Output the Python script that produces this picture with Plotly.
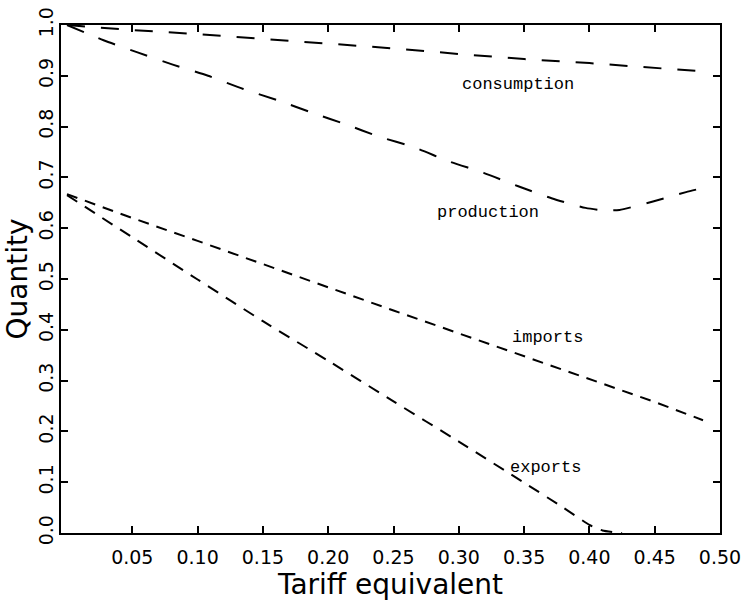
import plotly.graph_objects as go

# ---- data ----
consumption_x = [0, 0.05, 0.10, 0.15, 0.20, 0.25, 0.30, 0.35, 0.40, 0.45, 0.485]
consumption_y = [1.0, 0.990, 0.982, 0.973, 0.964, 0.954, 0.943, 0.933, 0.925, 0.915, 0.909]

production_x = [0, 0.028, 0.054, 0.081, 0.108, 0.135, 0.161, 0.188, 0.214, 0.238,
                0.266, 0.292, 0.319, 0.345, 0.371, 0.397, 0.412, 0.423, 0.448, 0.474, 0.485]
production_y = [1.0, 0.970, 0.946, 0.922, 0.900, 0.874, 0.852, 0.827, 0.804, 0.781,
                0.759, 0.732, 0.709, 0.683, 0.659, 0.640, 0.635, 0.636, 0.652, 0.671, 0.678]

imports_x = [0, 0.05, 0.10, 0.15, 0.20, 0.25, 0.30, 0.35, 0.40, 0.45, 0.487]
imports_y = [0.667, 0.620, 0.575, 0.529, 0.484, 0.438, 0.393, 0.348, 0.304, 0.258, 0.222]

exports_x = [0, 0.05, 0.10, 0.15, 0.20, 0.25, 0.30, 0.35, 0.38, 0.40, 0.41, 0.425]
exports_y = [0.665, 0.582, 0.499, 0.417, 0.339, 0.259, 0.180, 0.099, 0.050, 0.016, 0.005, 0.0]

x_tick_vals = [0.05, 0.10, 0.15, 0.20, 0.25, 0.30, 0.35, 0.40, 0.45, 0.50]
x_tick_text = ["0.05", "0.10", "0.15", "0.20", "0.25", "0.30", "0.35", "0.40", "0.45", "0.50"]
y_tick_vals = [0.0, 0.1, 0.2, 0.3, 0.4, 0.5, 0.6, 0.7, 0.8, 0.9, 1.0]
y_tick_text = ["0.0", "0.1", "0.2", "0.3", "0.4", "0.5", "0.6", "0.7", "0.8", "0.9", "1.0"]

labels = ["consumption", "production", "imports", "exports"]
label_x = [0.345, 0.322, 0.368, 0.366]
label_y = [0.886, 0.634, 0.388, 0.132]

# ---- figure ----
fig = go.Figure()
long_dash = "18px,16px"
short_dash = "11px,8px"
fig.add_trace(go.Scatter(x=consumption_x, y=consumption_y, mode="lines",
                         line=dict(color="black", width=2, dash=long_dash)))
fig.add_trace(go.Scatter(x=production_x, y=production_y, mode="lines",
                         line=dict(color="black", width=2, dash=long_dash, shape="spline", smoothing=0.6)))
fig.add_trace(go.Scatter(x=imports_x, y=imports_y, mode="lines",
                         line=dict(color="black", width=2, dash=short_dash)))
fig.add_trace(go.Scatter(x=exports_x, y=exports_y, mode="lines",
                         line=dict(color="black", width=2, dash="12px,9px", shape="spline", smoothing=0.5)))

for t, x, y in zip(labels, label_x, label_y):
    fig.add_annotation(x=x, y=y, text=t, showarrow=False, xanchor="center", yanchor="middle",
                       yshift=-2,
                       font=dict(family="Courier New, Liberation Mono, monospace", size=17, color="black"))

tick_font = dict(family="DejaVu Sans", size=19, color="black")
title_font = dict(family="DejaVu Sans", size=28, color="black")

fig.update_layout(
    width=745, height=603,
    margin=dict(l=61, r=25, t=25, b=70),
    paper_bgcolor="white", plot_bgcolor="white",
    showlegend=False,
)
fig.update_xaxes(
    range=[-0.0046, 0.5], tickvals=x_tick_vals, ticktext=x_tick_text,
    ticks="inside", ticklen=7, tickwidth=1.5, tickcolor="black",
    showline=True, linewidth=2, linecolor="black", mirror="ticks",
    showgrid=False, zeroline=False, tickfont=tick_font, automargin=False,
    ticklabelstandoff=6,
    title=dict(text="Tariff equivalent", font=title_font, standoff=0),
)
fig.update_yaxes(
    range=[0, 1.0], tickvals=y_tick_vals, ticktext=y_tick_text, tickangle=-90,
    ticks="inside", ticklen=7, tickwidth=1.5, tickcolor="black",
    showline=True, linewidth=2, linecolor="black", mirror="ticks",
    showgrid=False, zeroline=False, tickfont=tick_font, automargin=False,
    ticklabelstandoff=-2,
    title=dict(text="Quantity", font=title_font, standoff=0),
)

fig.write_html("out.html", config={"displayModeBar": False},
               post_script="document.body.style.margin='0';")
